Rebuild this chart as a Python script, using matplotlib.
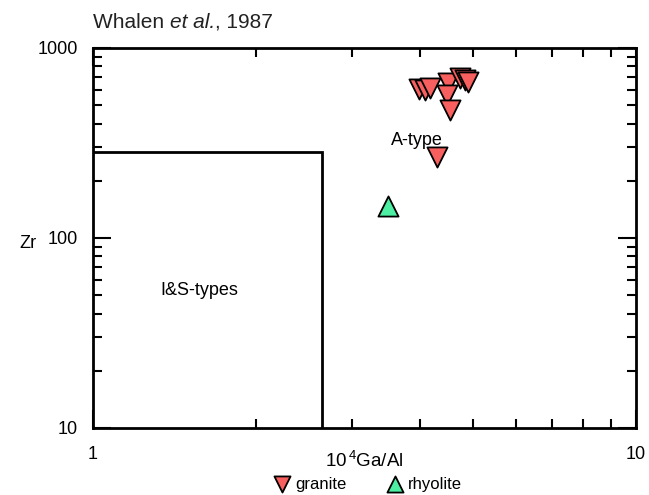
import matplotlib
matplotlib.use("Agg")
import matplotlib.pyplot as plt
from matplotlib.ticker import LogLocator, NullFormatter, FixedLocator, FixedFormatter

plt.rcParams['font.family'] = ['Liberation Sans', 'DejaVu Sans']
plt.rcParams['mathtext.default'] = 'regular'

# Data
granite_gaal = [3.98, 4.09, 4.17, 4.50, 4.49, 4.54, 4.74, 4.84, 4.91, 4.30]
granite_zr = [608, 601, 615, 655, 566, 472, 695, 679, 663, 267]
rhyolite_gaal = [3.49]
rhyolite_zr = [147]

# field boundary (I&S-types box)
box_gaal = 2.64
box_zr = 284

fig = plt.figure(figsize=(6.49, 4.95), dpi=100)
ax = fig.add_axes([0.1433, 0.1354, 0.8367, 0.7677])
ax.set_xscale('log')
ax.set_yscale('log')
ax.set_xlim(1, 10)
ax.set_ylim(10, 1000)

ax.plot([1, box_gaal, box_gaal], [box_zr, box_zr, 10], color='black', lw=2.0, zorder=2,
        solid_joinstyle='miter')

ax.scatter(granite_gaal, granite_zr, marker='v', s=210, facecolor='#F7605E',
           edgecolor='black', linewidth=1.3, zorder=3, label='granite')
ax.scatter(rhyolite_gaal, rhyolite_zr, marker='^', s=210, facecolor='#4DF0A2',
           edgecolor='black', linewidth=1.3, zorder=3, label='rhyolite')

ax.text(3.95, 324, 'A-type', fontsize=13, ha='center', va='center')
ax.text(1.57, 52.6, 'I&S-types', fontsize=13, ha='center', va='center')

for s in ax.spines.values():
    s.set_linewidth(2.0)

ax.xaxis.set_major_locator(FixedLocator([1, 10]))
ax.xaxis.set_major_formatter(FixedFormatter(['1', '10']))
ax.yaxis.set_major_locator(FixedLocator([10, 100, 1000]))
ax.yaxis.set_major_formatter(FixedFormatter(['10', '100', '1000']))
ax.xaxis.set_minor_locator(LogLocator(base=10, subs=range(2, 10)))
ax.yaxis.set_minor_locator(LogLocator(base=10, subs=range(2, 10)))
ax.xaxis.set_minor_formatter(NullFormatter())
ax.yaxis.set_minor_formatter(NullFormatter())
ax.tick_params(which='both', direction='in', top=True, right=True, width=1.5, labelsize=13)
ax.tick_params(axis='y', which='major', length=13, pad=11)
ax.tick_params(axis='x', which='major', length=13, pad=13)
ax.tick_params(which='minor', length=6.5)

fig.text(364/649, 1-461/495, '10$^{\\,4}$Ga/Al', fontsize=13.5, ha='center', va='center')
fig.text(28/649, 1-243/495, 'Zr', fontsize=13, ha='center', va='center')

ty = 1 - 22/495
t1 = fig.text(93/649, ty, 'Whalen ', fontsize=15, ha='left', va='center', color='#222222')
fig.canvas.draw()
r = fig.canvas.get_renderer()
x1 = t1.get_window_extent(r).x1 / fig.bbox.width
t2 = fig.text(x1, ty, 'et al.', fontsize=15, ha='left', va='center', color='#222222',
              style='italic')
x2 = t2.get_window_extent(r).x1 / fig.bbox.width
fig.text(x2, ty, ', 1987', fontsize=15, ha='left', va='center', color='#222222')

leg = fig.legend(loc='center', bbox_to_anchor=(366/649, 1-484/495), ncol=2, frameon=False,
                 fontsize=12, handletextpad=0.1, columnspacing=2.2, markerscale=0.8,
                 borderpad=0, handlelength=1.4)

fig.savefig('out.png', dpi=100)
